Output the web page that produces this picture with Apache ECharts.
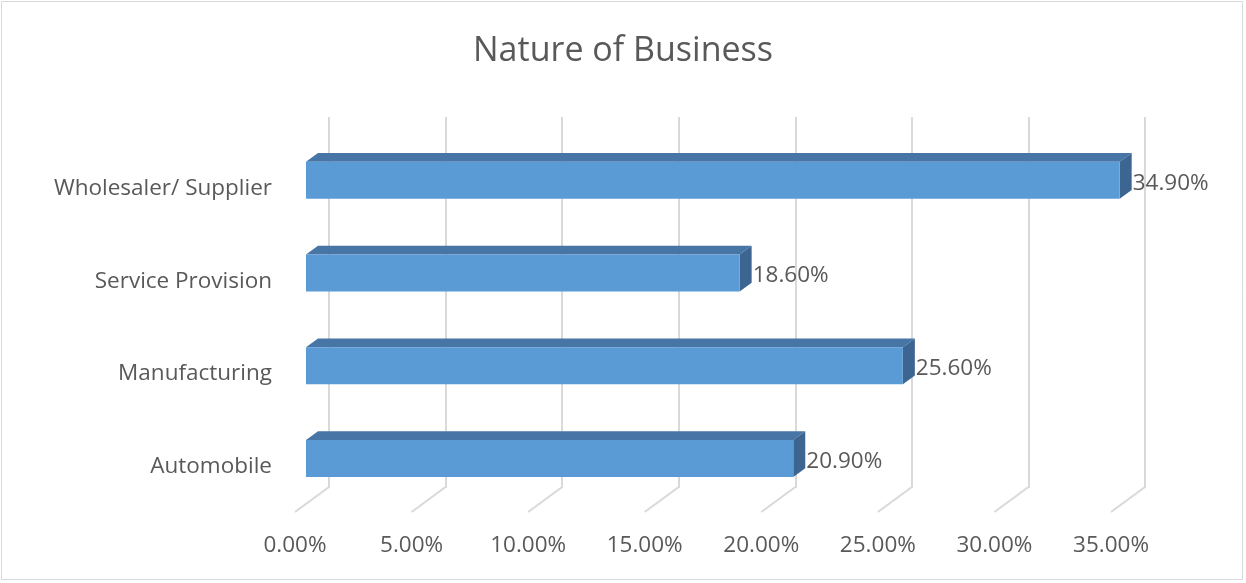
<!DOCTYPE html>
<html><head><meta charset="utf-8">
<script src="https://cdn.jsdelivr.net/npm/echarts@6/dist/echarts.min.js"></script>
<style>html,body{margin:0;padding:0;background:#fff}#c{width:1246px;height:583px}</style>
</head><body><div id="c"></div>
<script>
var categories = ['Automobile', 'Manufacturing', 'Service Provision', 'Wholesaler/ Supplier'];
var values = [20.9, 25.6, 18.6, 34.9];
var ticks = [0, 5, 10, 15, 20, 25, 30, 35];

var FONT = '"Open Sans", "Noto Sans", sans-serif';
var TXT = '#595959';
var GRID = '#d9d9d9';
var FS = 22.5;
// depth projection (back wall -> front floor edge)
var DX = -34, DY = 25;
var FRONT_F = 23 / 34, BACK_F = 11 / 34;

var chart = echarts.init(document.getElementById('c'), null, {renderer: 'canvas'});
chart.setOption({
  animation: false,
  backgroundColor: '#fff',
  title: {
    text: 'Nature of Business', left: 'center', top: 29,
    textStyle: {fontFamily: FONT, fontSize: 34, fontWeight: 'normal', color: TXT}
  },
  graphic: [{
    type: 'rect', shape: {x: 1.5, y: 1.5, width: 1241, height: 578},
    style: {fill: 'none', stroke: '#d9d9d9', lineWidth: 1}, silent: true
  }],
  grid: [
    {left: 329, width: 816, top: 117, height: 371},
    {left: 329 + DX, width: 816, top: 117 + DY, height: 371}
  ],
  xAxis: [
    {gridIndex: 0, type: 'value', min: 0, max: 35, interval: 5,
     axisLine: {show: false}, axisTick: {show: false}, axisLabel: {show: false},
     splitLine: {show: true, lineStyle: {color: GRID, width: 2}}},
    {gridIndex: 1, type: 'value', min: 0, max: 35, interval: 5,
     axisLine: {show: false}, axisTick: {show: false}, splitLine: {show: false},
     axisLabel: {show: true, margin: 21, color: TXT, fontFamily: FONT, fontSize: FS,
       formatter: function (v) { return v.toFixed(2) + '%'; }}}
  ],
  yAxis: [
    {gridIndex: 0, type: 'category', data: categories,
     axisLine: {show: false}, axisTick: {show: false}, axisLabel: {show: false}, splitLine: {show: false}},
    {gridIndex: 1, type: 'category', data: categories,
     axisLine: {show: false}, axisTick: {show: false}, splitLine: {show: false},
     axisLabel: {show: true, margin: 23, color: TXT, fontFamily: FONT, fontSize: FS}}
  ],
  series: [
    {
      type: 'custom', xAxisIndex: 0, yAxisIndex: 0, silent: true,
      data: ticks.map(function (t) { return [t, 0]; }),
      renderItem: function (params, api) {
        var x = api.coord([api.value(0), 0])[0];
        var yb = params.coordSys.y + params.coordSys.height - 1;
        return {type: 'line', shape: {x1: x, y1: yb, x2: x + DX, y2: yb + DY},
          style: {stroke: GRID, lineWidth: 2}};
      }
    },
    {
      type: 'custom', xAxisIndex: 0, yAxisIndex: 0, silent: true,
      data: values.map(function (v, i) { return [v, i]; }),
      renderItem: function (params, api) {
        var v = api.value(0), idx = api.value(1);
        var p0 = api.coord([0, idx]);
        var p1 = api.coord([v, idx]);
        var band = api.size([0, 1])[1];
        var h = band * 0.4;
        var fx = DX * FRONT_F, fy = DY * FRONT_F;
        var bx = DX * BACK_F - fx, by = DY * BACK_F - fy; // from front to back
        var xl = p0[0] + fx, xr = p1[0] + fx;
        var yc = p0[1] + fy;
        var yt = yc - h / 2, ybm = yc + h / 2;
        return {type: 'group', children: [
          {type: 'polygon', shape: {points: [[xl, yt], [xr, yt], [xr + bx, yt + by], [xl + bx, yt + by]]},
           style: {fill: '#4675A6'}},
          {type: 'polygon', shape: {points: [[xr, yt], [xr + bx, yt + by], [xr + bx, ybm + by], [xr, ybm]]},
           style: {fill: '#3C6591'}},
          {type: 'rect', shape: {x: xl, y: yt, width: xr - xl, height: h},
           style: {fill: '#5B9BD5'}},
          {type: 'text', x: xr + 13, y: yc + 3,
           style: {text: v.toFixed(2) + '%', fill: TXT, font: FS + 'px ' + FONT,
             textAlign: 'left', textVerticalAlign: 'middle'}}
        ]};
      }
    }
  ]
});
</script></body></html>
